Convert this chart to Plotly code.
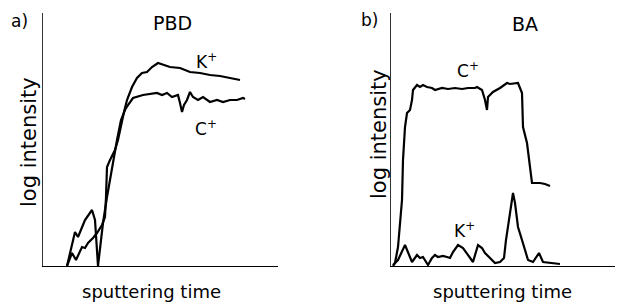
import plotly.graph_objects as go

# reference picture size and the page's default body margin (8 px) that offsets the plot
W, H = 623, 302
OFF = 8
FW, FH = W - OFF, H - OFF

# ---- data (time in arbitrary units, log intensity in arbitrary units) ----
# Panel a) PBD
pbd_k_time = [24, 29, 33, 39, 42, 45, 50, 54, 59, 62, 63, 64, 67, 72, 75, 78, 81, 84, 89, 94, 99,
              104, 109, 115, 120, 127, 137, 147, 157, 167, 177, 187, 197]
pbd_k_int = [0, 13, 6, 19, 18, 23, 28, 33, 41, 49, 69, 99, 106, 116, 126, 141, 154, 166, 179, 188, 193,
             194, 199, 203, 201, 199, 198, 194, 193, 191, 190, 188, 186]

pbd_c_time = [24, 32, 35, 42, 49, 52, 55, 60, 64, 69, 74, 78, 82, 85, 90, 100, 114, 119, 124, 129, 135,
              137, 139, 141, 144, 147, 150, 155, 160, 167, 174, 180, 187, 194, 200, 202]
pbd_c_int = [0, 34, 29, 46, 56, 46, 0, 43, 69, 99, 126, 146, 156, 161, 168, 171, 173, 171, 173, 169, 171,
             163, 154, 161, 166, 174, 169, 166, 169, 164, 166, 164, 166, 166, 168, 167]

# Panel b) BA
ba_c_time = [2, 4, 7, 11, 12, 14, 16, 19, 21, 22, 26, 29, 32, 36, 41, 44, 51, 57, 64, 71, 77, 84, 86,
             91, 94, 96, 97, 102, 109, 116, 119, 124, 127, 131, 132, 136, 139, 141, 144, 149, 154, 159]
ba_c_int = [0, 3, 19, 66, 106, 139, 153, 156, 166, 176, 181, 179, 181, 179, 178, 176, 178, 177, 178, 177,
            178, 178, 179, 176, 166, 156, 169, 174, 178, 183, 182, 183, 183, 173, 139, 123, 96, 83, 83,
            83, 82, 80]

ba_k_time = [2, 7, 14, 17, 21, 26, 29, 32, 37, 41, 44, 47, 52, 56, 59, 62, 67, 72, 77, 82, 87, 91, 94,
             99, 104, 109, 113, 115, 117, 119, 122, 124, 127, 131, 134, 137, 142, 148, 152, 159, 169]
ba_k_int = [1, 6, 21, 13, 4, 11, 8, 9, 1, 8, 11, 9, 10, 9, 8, 14, 21, 18, 11, 4, 21, 18, 13, 8, 3, 4,
            8, 26, 39, 56, 73, 63, 39, 26, 16, 6, 4, 13, 4, 3, 2]

panel_letters = ["a)", "b)"]
panel_titles = ["PBD", "BA"]
x_title = "sputtering time"
y_title = "log intensity"

FONT = "DejaVu Sans"
LINE = dict(color="black", width=2.2)

fig = go.Figure()
fig.add_trace(go.Scatter(x=pbd_k_time, y=pbd_k_int, mode="lines", line=LINE, xaxis="x", yaxis="y"))
fig.add_trace(go.Scatter(x=pbd_c_time, y=pbd_c_int, mode="lines", line=LINE, xaxis="x", yaxis="y"))
fig.add_trace(go.Scatter(x=ba_c_time, y=ba_c_int, mode="lines", line=LINE, xaxis="x2", yaxis="y2"))
fig.add_trace(go.Scatter(x=ba_k_time, y=ba_k_int, mode="lines", line=LINE, xaxis="x2", yaxis="y2"))


def PX(px):
    return (px - OFF) / FW


def PY(py):
    return 1 - (py - OFF) / FH


ydom = [PY(266), PY(13)]
common_x = dict(showline=True, linecolor="black", linewidth=1.4, showticklabels=False, ticks="",
                showgrid=False, zeroline=False, fixedrange=True)
common_y = dict(showline=True, linecolor="#333", linewidth=1, showticklabels=False, ticks="",
                showgrid=False, zeroline=False, fixedrange=True, domain=ydom, range=[0, 253])

fig.update_layout(
    width=FW, height=FH, margin=dict(l=0, r=0, t=0, b=0),
    paper_bgcolor="white", plot_bgcolor="white", showlegend=False,
    xaxis=dict(domain=[PX(43), PX(278)], range=[0, 235], anchor="y", **common_x),
    yaxis=dict(anchor="x", **common_y),
    xaxis2=dict(domain=[PX(391), 1.0], range=[0, 232], anchor="y2", **common_x),
    yaxis2=dict(anchor="x2", **common_y),
)

ann = []


def add_text(text, px, py, size, angle=0):
    ann.append(dict(text=text, x=PX(px), y=PY(py), xref="paper", yref="paper", showarrow=False,
                    xanchor="center", yanchor="middle", textangle=angle,
                    font=dict(family=FONT, size=size, color="black")))


add_text(panel_letters[0], 19, 21, 17)
add_text(panel_letters[1], 369, 20, 17)
add_text(panel_titles[0], 172, 23, 19)
add_text(panel_titles[1], 525, 24, 19)
add_text(x_title, 151, 291, 18)
add_text(x_title, 502, 291, 18)
add_text(y_title, 29, 142, 21, -90)
add_text(y_title, 379, 134, 21, -90)


def add_series_label(text, t, i, xref, yref):
    ann.append(dict(text=text, x=t, y=i, xref=xref, yref=yref, showarrow=False,
                    xanchor="center", yanchor="middle",
                    font=dict(family=FONT, size=17, color="black")))


add_series_label("K<sup>+</sup>", 163, 205, "x", "y")
add_series_label("C<sup>+</sup>", 163, 138, "x", "y")
add_series_label("C<sup>+</sup>", 77, 196, "x2", "y2")
add_series_label("K<sup>+</sup>", 73, 36, "x2", "y2")

fig.update_layout(annotations=ann)
fig.write_html("out.html")
